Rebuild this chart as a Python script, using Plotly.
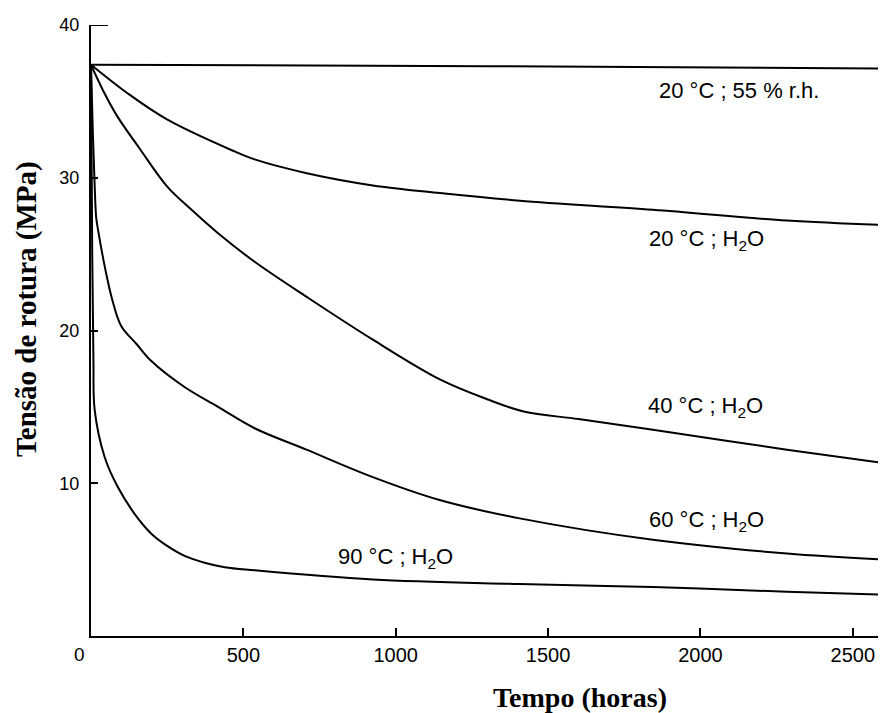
import plotly.graph_objects as go

# ---- data ----
x_rh20 = [0, 1300, 2609]
y_rh20 = [37.4, 37.3, 37.15]

x_w20 = [0, 122, 251, 462, 537, 708, 925, 1145, 1407, 1844, 2284, 2609]
y_w20 = [37.4, 35.5, 33.8, 31.8, 31.2, 30.3, 29.5, 29.0, 28.5, 27.9, 27.2, 26.9]

x_w40 = [0, 40, 87, 160, 251, 330, 415, 537, 708, 925, 1145, 1300, 1420, 1600, 1844, 2284, 2609]
y_w40 = [37.4, 35.7, 34.0, 31.9, 29.4, 27.9, 26.4, 24.5, 22.2, 19.4, 16.8, 15.5, 14.7, 14.2, 13.5, 12.2, 11.3]

x_w60 = [0, 6, 12, 17, 23, 45, 70, 99, 150, 198, 307, 417, 537, 707, 925, 1144, 1407, 1844, 2284, 2609]
y_w60 = [37.4, 33.0, 29.5, 27.4, 26.6, 24.2, 22.0, 20.3, 19.1, 18.0, 16.3, 15.0, 13.6, 12.2, 10.4, 8.9, 7.7, 6.3, 5.4, 5.0]

x_w90 = [0, 4, 8, 12, 45, 88, 143, 198, 250, 307, 373, 439, 537, 925, 1407, 1844, 2284, 2609]
y_w90 = [37.4, 25.0, 18.0, 14.8, 11.7, 9.75, 8.0, 6.7, 5.9, 5.25, 4.8, 4.5, 4.3, 3.7, 3.4, 3.2, 2.9, 2.7]

series_x = [x_rh20, x_w20, x_w40, x_w60, x_w90]
series_y = [y_rh20, y_w20, y_w40, y_w60, y_w90]

labels = ["20 °C ; 55 % r.h.", "20 °C ; H<sub>2</sub>O", "40 °C ; H<sub>2</sub>O",
          "60 °C ; H<sub>2</sub>O", "90 °C ; H<sub>2</sub>O"]
label_x = [2125, 2020, 2015, 2020, 1000]
label_y = [35.7, 25.9, 15.0, 7.5, 5.1]

x_ticks = [500, 1000, 1500, 2000, 2500]
y_ticks = [10, 20, 30, 40]

x_title = "Tempo (horas)"
y_title = "Tensão de rotura (MPa)"

fig = go.Figure()
for xs, ys in zip(series_x, series_y):
    fig.add_trace(go.Scatter(x=xs, y=ys, mode="lines",
                             line=dict(color="black", width=2, shape="spline", smoothing=1.0),
                             showlegend=False, hoverinfo="skip"))

for t, lx, ly in zip(labels, label_x, label_y):
    fig.add_annotation(x=lx, y=ly, text=t, showarrow=False, xanchor="center", yanchor="middle",
                       font=dict(family="Liberation Sans", size=22, color="black"))

# "0" corner label
fig.add_annotation(x=0, y=0, text="0", showarrow=False, xanchor="center", yanchor="top",
                   xshift=-12, yshift=-6, font=dict(family="Liberation Sans", size=19, color="black"))

fig.add_annotation(xref="paper", yref="paper", x=0.615, y=-0.10, text="<b>" + x_title + "</b>",
                   showarrow=False, xanchor="center", yanchor="middle",
                   font=dict(family="Liberation Serif", size=28, color="black"))
fig.add_annotation(xref="paper", yref="paper", x=-0.082, y=0.535, text="<b>" + y_title + "</b>",
                   textangle=-90, showarrow=False, xanchor="center", yanchor="middle",
                   font=dict(family="Liberation Serif", size=29, color="black"))

# longer top tick at 40
fig.add_shape(type="line", xref="paper", yref="y", x0=0, x1=17 / 795, y0=40, y1=40,
              line=dict(color="black", width=2))

fig.update_xaxes(range=[0, 2609], showline=True, linecolor="black", linewidth=2,
                 ticks="inside", ticklen=8, tickwidth=1.5, tickcolor="black",
                 tickvals=x_ticks, ticktext=[str(v) for v in x_ticks],
                 showgrid=False, zeroline=False,
                 tickfont=dict(family="Liberation Sans", size=20, color="black"))
fig.update_yaxes(range=[0, 40], showline=True, linecolor="black", linewidth=2,
                 ticks="inside", ticklen=7, tickwidth=1.5, tickcolor="black",
                 tickvals=y_ticks, ticktext=[str(v) for v in y_ticks],
                 showgrid=False, zeroline=False, ticklabelstandoff=6,
                 tickfont=dict(family="Liberation Sans", size=18, color="black"))

# page body has an 8px default margin: size the figure so the plot lands where the reference has it
fig.update_layout(width=878, height=705, margin=dict(l=83, r=0, t=17, b=77, pad=0),
                  plot_bgcolor="white", paper_bgcolor="white")

fig.write_html("out.html")
